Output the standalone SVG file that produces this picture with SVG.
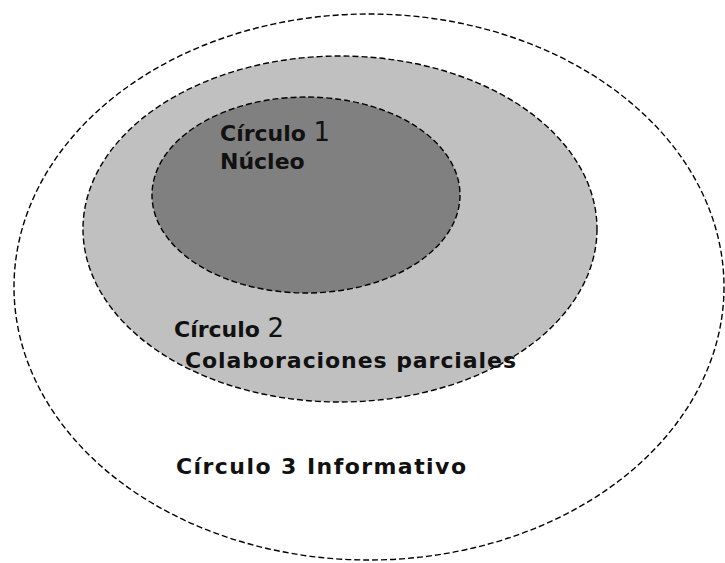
<svg xmlns="http://www.w3.org/2000/svg" width="725" height="563" viewBox="0 0 725 563">
<style>
.ring{stroke:#000;stroke-width:1.4;stroke-dasharray:6 3}
.t{font-family:"DejaVu Sans","Liberation Sans",sans-serif;font-weight:bold;font-size:22px;fill:#111}
.big{font-size:26px;font-weight:normal}
</style>
<rect width="725" height="563" fill="#fff"/>
<g id="circulo3">
<ellipse class="ring" cx="369" cy="287" rx="355" ry="273" fill="#fff"/>
</g>
<g id="circulo2">
<ellipse class="ring" cx="340" cy="229" rx="257" ry="173" fill="#c0c0c0"/>
</g>
<g id="circulo1">
<ellipse class="ring" cx="306" cy="195" rx="154" ry="98" fill="#808080"/>
<text class="t" x="220" y="141">Círculo <tspan class="big">1</tspan></text>
<text class="t" x="220" y="169">Núcleo</text>
</g>
<g id="labels2">
<text class="t" x="174" y="337">Círculo <tspan class="big">2</tspan></text>
<text class="t" x="185" y="368" textLength="331" lengthAdjust="spacing">Colaboraciones parciales</text>
</g>
<g id="labels3">
<text class="t" x="176" y="474" textLength="290" lengthAdjust="spacing">Círculo 3 Informativo</text>
</g>
<g id="connectors"/>
</svg>
